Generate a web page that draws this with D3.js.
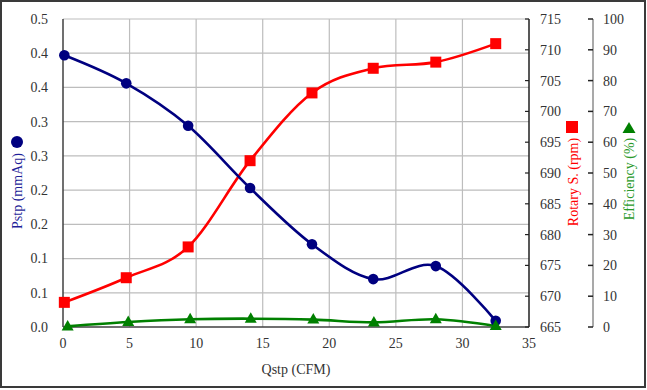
<!DOCTYPE html>
<html><head><meta charset="utf-8">
<script src="https://cdn.jsdelivr.net/npm/d3@7"></script>
<style>body{margin:0;background:#fff}svg{display:block}</style>
</head><body><svg id="c" width="647" height="390" font-family="'Liberation Serif', 'Times New Roman', serif"></svg>
<script>
const qstp = [0.1, 4.75, 9.4, 14.05, 18.7, 23.3, 28.0, 32.5];
const qEff = [0.35, 4.9, 9.55, 14.1, 18.8, 23.35, 28.0, 32.5];
const pstp = [0.397, 0.356, 0.294, 0.203, 0.121, 0.070, 0.089, 0.009];
const rpm = [669, 673, 678, 692, 703, 707, 708, 711];
const eff = [0.2, 1.6, 2.5, 2.7, 2.4, 1.5, 2.5, 0.3];
const xTicks = [0, 5, 10, 15, 20, 25, 30, 35];
const yTicks = [0, 0.05, 0.1, 0.15, 0.2, 0.25, 0.3, 0.35, 0.4, 0.45];
const yTickLabels = ["0.0","0.1","0.1","0.2","0.2","0.3","0.3","0.4","0.4","0.5"];
const rpmTicks = [665, 670, 675, 680, 685, 690, 695, 700, 705, 710, 715];
const effTicks = [0, 10, 20, 30, 40, 50, 60, 70, 80, 90, 100];

const svg = d3.select("#c");
const FF = "'Liberation Serif', 'Times New Roman', serif";
const L = 63, R = 529, T = 19, B = 327;
const x = d3.scaleLinear().domain([0, 35]).range([L, R]);
const y = d3.scaleLinear().domain([0, 0.45]).range([B, T]);
const yR = d3.scaleLinear().domain([665, 715]).range([B, T]);
const yE = d3.scaleLinear().domain([0, 100]).range([B, T]);

svg.append("rect").attr("x", 1).attr("y", 1).attr("width", 644).attr("height", 386)
  .attr("fill", "#fff").attr("stroke", "#3a3a3a").attr("stroke-width", 2);

// gridlines
const g = svg.append("g");
g.selectAll(".vg").data(xTicks.slice(1, -1)).enter().append("line")
  .attr("x1", d => x(d)).attr("x2", d => x(d)).attr("y1", T).attr("y2", B)
  .attr("stroke", "#bdbdbd").attr("stroke-width", 1.2);
g.selectAll(".hg").data(yTicks.slice(1)).enter().append("line")
  .attr("x1", L).attr("x2", R).attr("y1", d => y(d)).attr("y2", d => y(d))
  .attr("stroke", "#bdbdbd").attr("stroke-width", 1.2);

// plot frame
svg.append("line").attr("x1", L).attr("x2", L).attr("y1", T).attr("y2", B).attr("stroke", "#404040").attr("stroke-width", 1.5);
svg.append("line").attr("x1", L).attr("x2", R).attr("y1", B).attr("y2", B).attr("stroke", "#404040").attr("stroke-width", 1.5);
svg.append("line").attr("x1", R).attr("x2", R).attr("y1", T).attr("y2", B).attr("stroke", "#202020").attr("stroke-width", 1.5);

const font = 14, tc = "#333";
function txt(sel) { return sel.attr("font-family", FF).attr("font-size", font); }
// left axis labels
txt(svg.selectAll(".yl").data(yTicks).enter().append("text"))
  .attr("x", 48).attr("y", d => y(d)).attr("dy", "0.35em").attr("text-anchor", "end")
  .attr("fill", tc).text((d, i) => yTickLabels[i]);
// x axis labels
txt(svg.selectAll(".xl").data(xTicks).enter().append("text"))
  .attr("x", d => x(d)).attr("y", 348).attr("text-anchor", "middle")
  .attr("fill", tc).text(d => d);
// rpm axis
svg.selectAll(".rt").data(rpmTicks).enter().append("line")
  .attr("x1", R - 4).attr("x2", R).attr("y1", d => yR(d)).attr("y2", d => yR(d)).attr("stroke", "#222").attr("stroke-width", 1.2);
txt(svg.selectAll(".rl").data(rpmTicks).enter().append("text"))
  .attr("x", 540).attr("y", d => yR(d)).attr("dy", "0.35em")
  .attr("fill", tc).text(d => d);
// efficiency axis
const EX = 593;
svg.append("line").attr("x1", EX).attr("x2", EX).attr("y1", T).attr("y2", B).attr("stroke", "#8c8c8c").attr("stroke-width", 1.5);
svg.selectAll(".et").data(effTicks).enter().append("line")
  .attr("x1", EX - 5).attr("x2", EX).attr("y1", d => yE(d)).attr("y2", d => yE(d)).attr("stroke", "#222").attr("stroke-width", 1.5);
txt(svg.selectAll(".el").data(effTicks).enter().append("text"))
  .attr("x", 603).attr("y", d => yE(d)).attr("dy", "0.35em")
  .attr("fill", tc).text(d => d);

// titles
txt(svg.append("text")).attr("x", 296).attr("y", 374).attr("text-anchor", "middle")
  .attr("fill", tc).text("Qstp (CFM)");
txt(svg.append("text")).attr("transform", "translate(22,191) rotate(-90)").attr("text-anchor", "middle")
  .attr("fill", "#1f1f99").text("Pstp (mmAq)");
svg.append("circle").attr("cx", 17).attr("cy", 142).attr("r", 6).attr("fill", "#000080");
txt(svg.append("text")).attr("transform", "translate(578,182) rotate(-90)").attr("text-anchor", "middle")
  .attr("fill", "#ff0000").text("Rotary S. (rpm)");
svg.append("rect").attr("x", 566).attr("y", 121).attr("width", 12).attr("height", 12).attr("fill", "#ff0000");
txt(svg.append("text")).attr("transform", "translate(634,179) rotate(-90)").attr("text-anchor", "middle")
  .attr("fill", "#2a9a2a").text("Efficiency (%)");
svg.append("path").attr("d", "M629,122 L635.5,133 L622.5,133 Z").attr("fill", "#008000");

const curve = d3.curveCardinal.tension(0);
function series(xs, ys, ys_scale, color) {
  const pts = xs.map((d, i) => [x(d), ys_scale(ys[i])]);
  svg.append("path").attr("d", d3.line().curve(curve)(pts))
    .attr("fill", "none").attr("stroke", color).attr("stroke-width", 2.6);
  return pts;
}
const pE = series(qEff, eff, yE, "#008000");
const pR = series(qstp, rpm, yR, "#ff0000");
const pB = series(qstp, pstp, y, "#000080");

svg.selectAll(".mb").data(pB).enter().append("circle")
  .attr("cx", d => d[0]).attr("cy", d => d[1]).attr("r", 5.3).attr("fill", "#000080");
svg.selectAll(".mr").data(pR).enter().append("rect")
  .attr("x", d => d[0] - 5.5).attr("y", d => d[1] - 5.5).attr("width", 11).attr("height", 11).attr("fill", "#ff0000");
svg.selectAll(".me").data(pE).enter().append("path")
  .attr("d", d => `M${d[0]},${d[1] - 6.5} L${d[0] + 6},${d[1] + 4} L${d[0] - 6},${d[1] + 4} Z`).attr("fill", "#008000");
</script></body></html>
